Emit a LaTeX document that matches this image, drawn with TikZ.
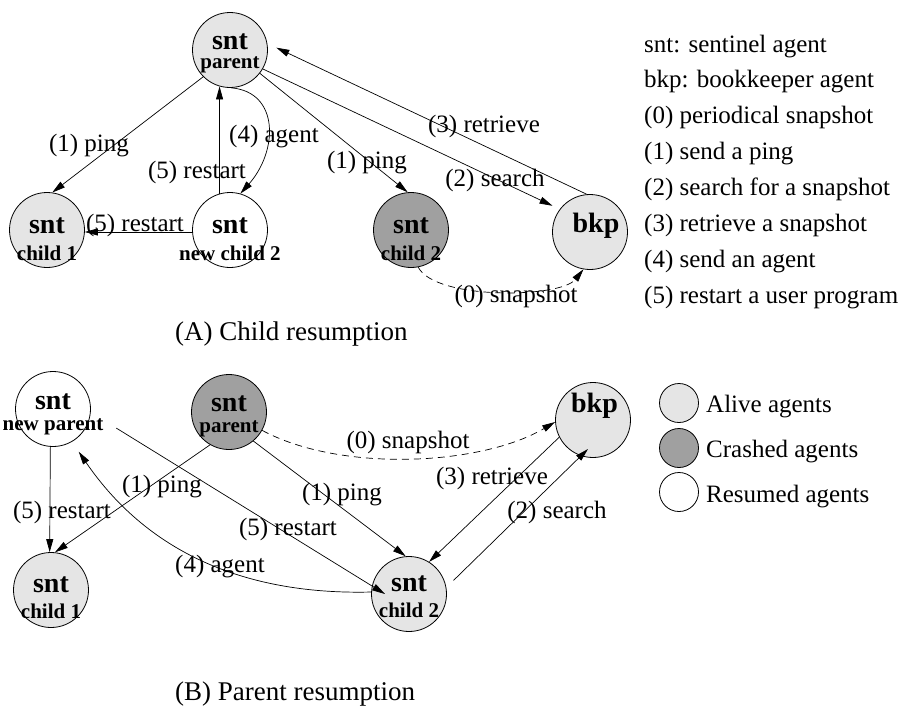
\documentclass[tikz,border=0pt]{standalone}
\usepackage{fontspec}
\setmainfont{Liberation Serif}
\usepackage{xcolor}
\usetikzlibrary{arrows.meta}
\definecolor{alivegray}{RGB}{229,229,229}
\definecolor{crashgray}{RGB}{160,160,160}
% two bold lines inside an agent circle: top, bottom, raise of top, raise of bottom
\newcommand\agtxt[4]{%
  \makebox[0pt]{\raisebox{#3}[0pt][0pt]{\fontsize{28}{28}\selectfont\bfseries #1}}%
  \makebox[0pt]{\raisebox{#4}[0pt][0pt]{\fontsize{21}{21}\selectfont\bfseries #2}}}
\newcommand\agone[3][0pt]{%
  \kern#1\makebox[0pt]{\raisebox{#3}[0pt][0pt]{\fontsize{28}{28}\selectfont\bfseries #2}}\kern-#1}

\begin{document}
\begin{tikzpicture}[x=1pt, y=-1pt, >={Triangle[length=13pt,width=7pt]},
    agent/.style={circle, draw, line width=0.8pt, minimum size=75pt, inner sep=0pt},
    alive/.style={agent, fill=alivegray},
    crashed/.style={agent, fill=crashgray},
    resumed/.style={agent, fill=white},
    msg/.style={->, line width=0.7pt},
    snap/.style={msg, dash pattern=on 7pt off 5pt},
    lbl/.style={font=\fontsize{25}{30}\selectfont, inner sep=0pt},
    key/.style={lbl, anchor=base west},
    caption/.style={key, font=\fontsize{27}{32}\selectfont}]
  \useasboundingbox (0,0) rectangle (904,707);

  % (A) child resumption
  \node[alive]   (pA)   at (230,50)  {\agtxt{snt}{parent}{1pt}{-18pt}};
  \node[alive]   (c1A)  at (47,230)  {\agtxt{snt}{child 1}{-3pt}{-30pt}};
  \node[resumed] (nc2A) at (230,230) {\agtxt{snt}{new child 2}{-3pt}{-30pt}};
  \node[crashed] (c2A)  at (411,230) {\agtxt{snt}{child 2}{-3pt}{-30pt}};
  \node[alive]   (bkpA) at (590,232) {\agone[6pt]{bkp}{0pt}};

  \draw[msg] (pA.225) -- (c1A.82);
  \draw[msg] (nc2A.106) -- (pA.254);
  \draw[msg] (pA.272) .. controls +(48,4) and +(38,-43) .. (nc2A.74);
  \draw[msg] (nc2A.183) -- (c1A.357);
  \draw[msg] (pA.322) -- (c2A.95);
  \draw[msg, shorten >=8pt] (pA.330) -- (bkpA.143);
  \draw[msg, shorten >=10pt] (bkpA.95) -- (pA.10);
  \draw[snap] (c2A.281) .. controls +(17,33) and +(-23,29) .. (bkpA.260);

  \node[lbl] (l1pA)  at (89,146)  {(1) ping};
  \node[lbl] (l5rA)  at (197,172) {(5) restart};
  \node[lbl] (l4aA)  at (274,137) {(4) agent};
  \node[lbl] (l5r2A) at (135,225) {(5) restart};
  \node[lbl] (l1p2A) at (367,163) {(1) ping};
  \node[lbl] (l2sA)  at (495,180) {(2) search};
  \node[lbl] (l3rA)  at (484,126) {(3) retrieve};
  \node[lbl] (l0sA)  at (516,296) {(0) snapshot};

  \foreach \t [count=\i from 0] in {{snt: sentinel agent},{bkp: bookkeeper agent},
      {(0) periodical snapshot},{(1) send a ping},{(2) search for a snapshot},
      {(3) retrieve a snapshot},{(4) send an agent},{(5) restart a user program}}
    \node[key] (keyA\i) at (644,{52+35.9*\i}) {\t};

  \node[caption] (capA) at (175,340) {(A) Child resumption};

  % (B) parent resumption
  \node[resumed] (npB)  at (53,409)  {\agtxt{snt}{new parent}{0pt}{-21pt}};
  \node[crashed] (pB)   at (229,412) {\agtxt{snt}{parent}{1pt}{-20pt}};
  \node[alive]   (bkpB) at (593,420) {\agone[1.5pt]{bkp}{8pt}};
  \node[alive]   (c1B)  at (51,590)  {\agtxt{snt}{child 1}{-2pt}{-28pt}};
  \node[alive]   (c2B)  at (409,594) {\agtxt{snt}{child 2}{3pt}{-23pt}};

  \draw[msg] (npB.266) -- (c1B.92);
  \draw[msg] (pB.240) -- (c1B.84);
  \draw[msg, shorten <=30pt] (npB.-5) -- ([xshift=-24pt]c2B.center);
  \draw[msg, shorten >=12pt] (c2B.177) .. controls +(-121,3) and +(78,114) .. (npB.-60);
  \draw[msg] (pB.310) -- (c2B.95);
  \draw[snap] (pB.331) .. controls +(78,42) and +(-75,44) .. (bkpB.183);
  \draw[msg] (bkpB.207) -- (c2B.58);
  \draw[msg, shorten <=10pt] (c2B.10) -- ([xshift=-5pt,yshift=-29pt]bkpB.center);

  \node[lbl] (l5rB)  at (62,512)  {(5) restart};
  \node[lbl] (l1pB)  at (162,487) {(1) ping};
  \node[lbl] (l5r2B) at (288,529) {(5) restart};
  \node[lbl] (l4aB)  at (220,567) {(4) agent};
  \node[lbl] (l1p2B) at (342,495) {(1) ping};
  \node[lbl] (l0sB)  at (408,442) {(0) snapshot};
  \node[lbl] (l3rB)  at (492,478) {(3) retrieve};
  \node[lbl] (l2sB)  at (557,512) {(2) search};

  \node[alive, minimum size=39pt]   (kAlive) at (679,403) {};
  \node[crashed, minimum size=39pt] (kCrash) at (679,448) {};
  \node[resumed, minimum size=39pt] (kResum) at (679,492) {};
  \node[key] (tAlive) at (706,412) {Alive agents};
  \node[key] (tCrash) at (706,457) {Crashed agents};
  \node[key] (tResum) at (706,502) {Resumed agents};

  \node[caption] (capB) at (175,700) {(B) Parent resumption};
\end{tikzpicture}
\end{document}
